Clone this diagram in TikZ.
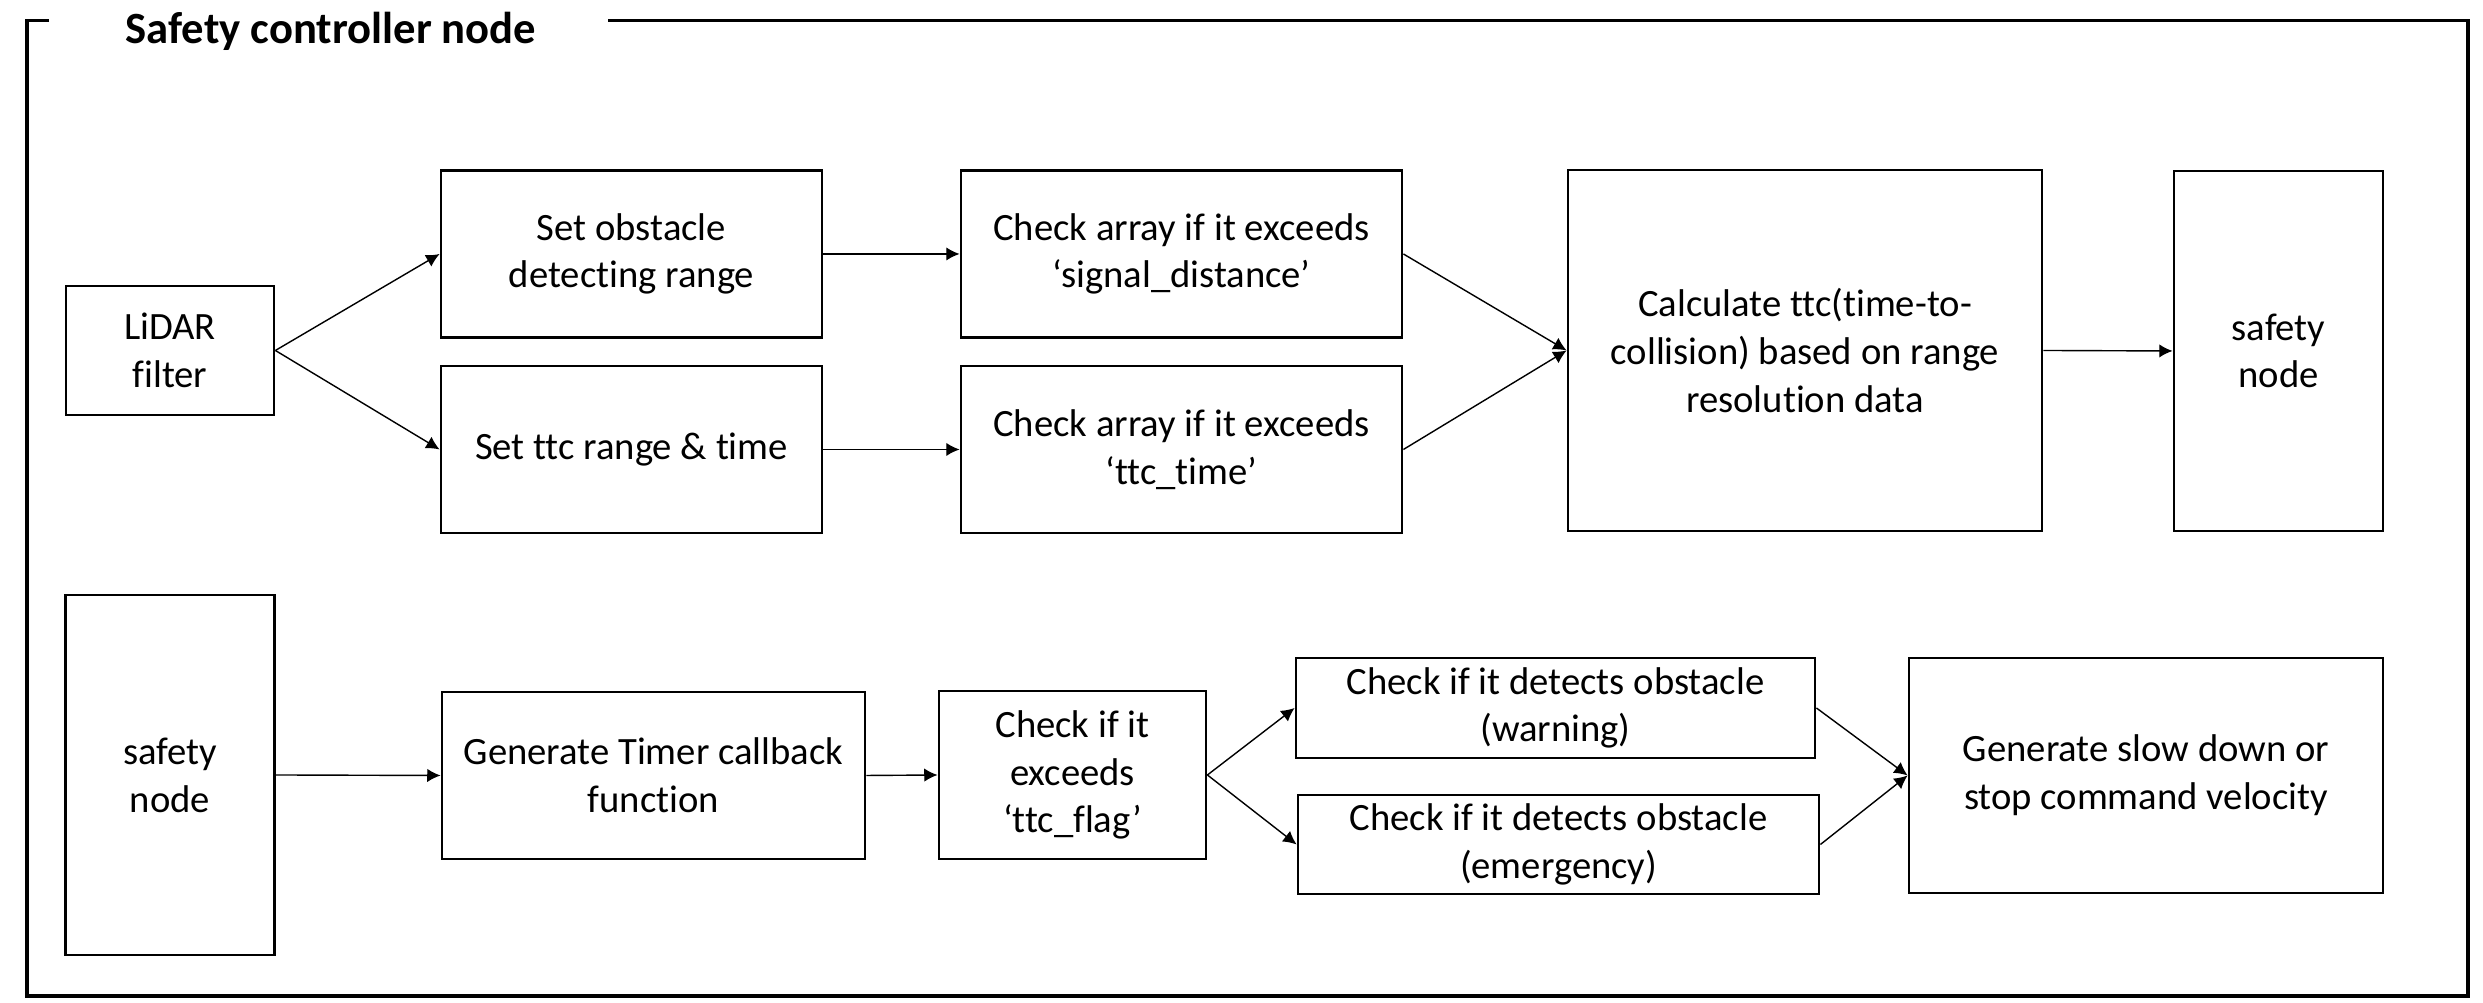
\documentclass[tikz,border=0pt]{standalone}
\usepackage{fontspec}
\setmainfont{Carlito}[Ligatures=NoCommon]
\usetikzlibrary{arrows.meta}

\begin{document}
\begin{tikzpicture}[>={Latex[length=3.8pt, width=3.8pt]}, scale=1,
        box/.style={draw, line width=0.8pt, align=center, inner sep=2pt,
            font=\fontsize{11}{13.6}\selectfont},
        link/.style={->, line width=0.4pt}]
        \useasboundingbox (0, 0) rectangle (24.83, 10.03);
        \draw[line width=0.9pt] (0.49, 9.826) -- (0.27, 9.826) -- (0.27, 0.07)
            -- (24.68, 0.07) -- (24.68, 9.826) -- (6.08, 9.826);
        \node[anchor=base west, inner sep=0pt,
            font=\fontsize{12.7}{15}\selectfont\bfseries]
            (title) at (1.25, 9.59) {Safety controller node};
        \node[box, minimum width=2.08cm, minimum height=1.29cm]
            (lidar) at (1.70, 6.525) {LiDAR\\filter};
        \node[box, minimum width=3.81cm, minimum height=1.675cm]
            (obst) at (6.315, 7.49) {Set obstacle\\detecting range};
        \node[box, minimum width=3.81cm, minimum height=1.67cm]
            (ttcset) at (6.315, 5.535) {Set ttc range \& time};
        \node[box, minimum width=4.41cm, minimum height=1.675cm]
            (chkdist) at (11.815, 7.49) {Check array if it exceeds\\‘signal\_distance’};
        \node[box, minimum width=4.41cm, minimum height=1.67cm]
            (chktime) at (11.815, 5.535) {Check array if it exceeds\\‘ttc\_time’};
        \node[box, minimum width=4.74cm, minimum height=3.61cm]
            (calc) at (18.05, 6.525) {Calculate ttc(time-to-\\collision) based on range\\resolution data};
        \node[box, minimum width=2.09cm, minimum height=3.60cm]
            (safetyA) at (22.785, 6.52) {safety\\node};
        \node[box, minimum width=2.09cm, minimum height=3.60cm]
            (safetyB) at (1.70, 2.28) {safety\\node};
        \node[box, minimum width=4.23cm, minimum height=1.67cm]
            (timer) at (6.535, 2.275) {Generate Timer callback\\function};
        \node[box, minimum width=2.67cm, minimum height=1.68cm]
            (chkflag) at (10.725, 2.28) {Check if it\\exceeds\\‘ttc\_flag’};
        \node[box, minimum width=5.19cm, minimum height=1.00cm]
            (warn) at (15.555, 2.95) {Check if it detects obstacle\\(warning)};
        \node[box, minimum width=5.21cm, minimum height=0.99cm]
            (emerg) at (15.585, 1.585) {Check if it detects obstacle\\(emergency)};
        \node[box, minimum width=4.74cm, minimum height=2.35cm]
            (slow) at (21.46, 2.275) {Generate slow down or\\stop command velocity};
        \draw[link] (lidar.east) -- (obst.west);
        \draw[link] (lidar.east) -- (ttcset.west);
        \draw[link] (obst.east) -- (chkdist.west);
        \draw[link] (ttcset.east) -- (chktime.west);
        \draw[link] (chkdist.east) -- (calc.west);
        \draw[link] (chktime.east) -- (calc.west);
        \draw[link] (calc.east) -- (safetyA.west);
        \draw[link] (safetyB.east) -- (timer.west);
        \draw[link] (timer.east) -- (chkflag.west);
        \draw[link] (chkflag.east) -- (warn.west);
        \draw[link] (chkflag.east) -- (emerg.west);
        \draw[link] (warn.east) -- (slow.west);
        \draw[link] (emerg.east) -- (slow.west);
    \end{tikzpicture}
\end{document}
